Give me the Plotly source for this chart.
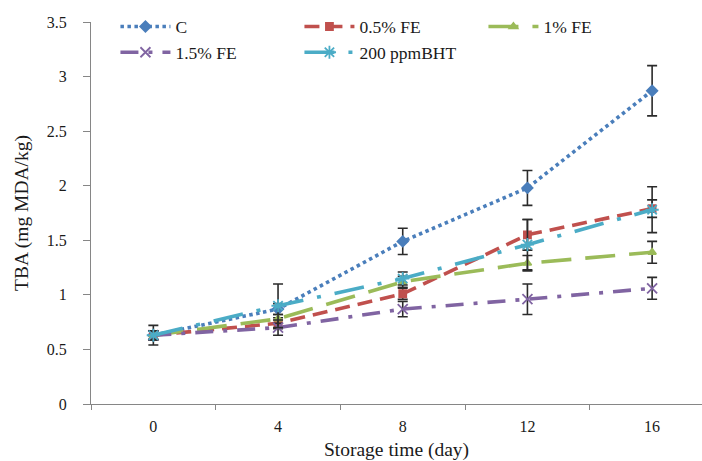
import plotly.graph_objects as go

# Storage days and TBA values (mg MDA/kg) per treatment
days = [0, 4, 8, 12, 16]

c_vals = [0.63, 0.87, 1.49, 1.98, 2.87]
c_err = [0.09, 0.05, 0.12, 0.16, 0.23]

fe05_vals = [0.63, 0.74, 1.01, 1.55, 1.79]
fe05_err = [0.04, 0.05, 0.05, 0.14, 0.08]

fe1_vals = [0.63, 0.78, 1.12, 1.29, 1.39]
fe1_err = [0.04, 0.04, 0.05, 0.07, 0.10]

fe15_vals = [0.63, 0.70, 0.87, 0.96, 1.06]
fe15_err = [0.04, 0.07, 0.07, 0.14, 0.10]

bht_vals = [0.63, 0.90, 1.15, 1.46, 1.78]
bht_err = [0.04, 0.20, 0.06, 0.23, 0.21]

series = [
    ("C", c_vals, c_err, "#4A7EBB", "3.5px,3.5px", "diamond", 8),
    ("0.5% FE", fe05_vals, fe05_err, "#C0504D", "15px,8px", "square", 7),
    ("1% FE", fe1_vals, fe1_err, "#9BBB59", "30px,14px", "triangle-up", 7),
    ("1.5% FE", fe15_vals, fe15_err, "#8064A2", "18px,10px,4px,10px", "x-thin-open", 10),
    ("200 ppmBHT", bht_vals, bht_err, "#4BACC6", "30px,14px,4px,14px", "asterisk-open", 11),
]

fig = go.Figure()
for name, vals, err, color, dash, symbol, size in series:
    fig.add_trace(go.Scatter(
        x=days, y=vals, name=name, mode="lines+markers",
        line=dict(color=color, width=3.6, dash=dash),
        marker=dict(symbol=symbol, size=size, color=color,
                    line=dict(color=color, width=1.8)),
        error_y=dict(type="data", array=err, visible=True,
                     color="#2b2b2b", thickness=1.6, width=5),
    ))

font_family = "Liberation Serif"
axis_color = "#868686"

fig.update_layout(
    width=702, height=461,
    margin=dict(l=91, r=0, t=22, b=57),
    paper_bgcolor="white", plot_bgcolor="white",
    font=dict(family=font_family, size=16, color="#1a1a1a"),
    showlegend=True,
    legend=dict(
        orientation="h", x=0.04, y=1.035, xanchor="left", yanchor="top",
        entrywidth=119, entrywidthmode="pixels",
        font=dict(family=font_family, size=17.5, color="#1a1a1a"),
        bgcolor="rgba(0,0,0,0)", itemwidth=50, tracegroupgap=0,
    ),
    xaxis=dict(
        range=[-2, 17.6], tickvals=days, ticktext=[str(d) for d in days],
        ticks="", showline=True, linecolor=axis_color, linewidth=1.3,
        showgrid=False, zeroline=False, ticklabelstandoff=8,
        minor=dict(tick0=-2, dtick=4, ticks="outside", ticklen=5,
                   tickcolor=axis_color, showgrid=False),
        tickfont=dict(size=16),
        title=dict(text="Storage time (day)", font=dict(size=19.5), standoff=10),
    ),
    yaxis=dict(
        range=[0, 3.5], dtick=0.5, tickformat="~g",
        ticks="outside", ticklen=7, tickcolor=axis_color,
        showline=True, linecolor=axis_color, linewidth=1.3,
        showgrid=False, zeroline=False, ticklabelstandoff=13,
        tickfont=dict(size=16),
        title=dict(text="TBA (mg MDA/kg)", font=dict(size=19.5), standoff=12),
    ),
)

fig.write_html("out.html")
